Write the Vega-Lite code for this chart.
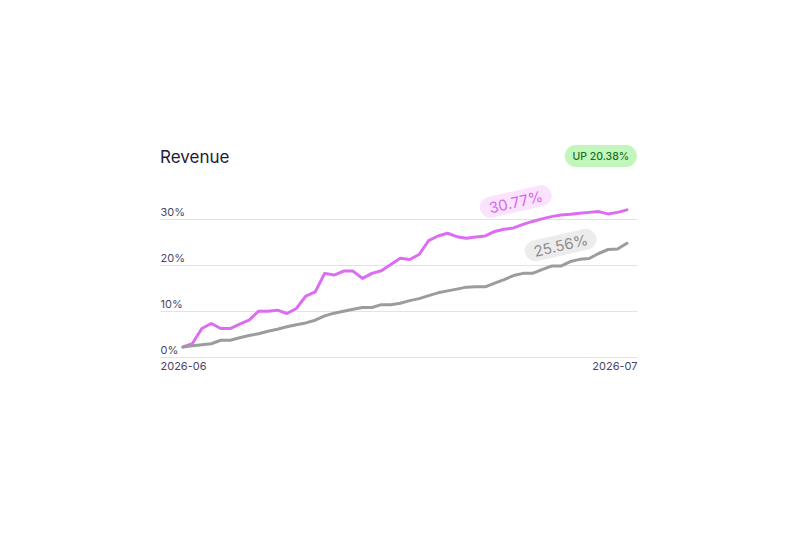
{
  "$schema": "https://vega.github.io/schema/vega-lite/v6.json",
  "width": 477,
  "height": 138,
  "autosize": {"type": "none"},
  "padding": {"left": 160, "top": 219, "right": 160, "bottom": 183},
  "background": "white",
  "config": {
    "font": "Inter",
    "view": {"stroke": null},
    "axis": {"labelFont": "Inter", "labelColor": "#4a4860", "labelFontSize": 11}
  },
  "title": {
    "text": "Revenue",
    "anchor": "start",
    "frame": "group",
    "fontSize": 17,
    "fontWeight": 400,
    "color": "#1d1b3a",
    "baseline": "alphabetic",
    "offset": -35
  },
  "datasets": {
    "series": [
      {"step": 0, "series": "Current", "value": 2.18},
      {"step": 1, "series": "Current", "value": 2.92},
      {"step": 2, "series": "Current", "value": 6.19},
      {"step": 3, "series": "Current", "value": 7.28},
      {"step": 4, "series": "Current", "value": 6.19},
      {"step": 5, "series": "Current", "value": 6.19},
      {"step": 6, "series": "Current", "value": 7.13},
      {"step": 7, "series": "Current", "value": 8.0},
      {"step": 8, "series": "Current", "value": 9.96},
      {"step": 9, "series": "Current", "value": 9.96},
      {"step": 10, "series": "Current", "value": 10.18},
      {"step": 11, "series": "Current", "value": 9.46},
      {"step": 12, "series": "Current", "value": 10.55},
      {"step": 13, "series": "Current", "value": 13.23},
      {"step": 14, "series": "Current", "value": 14.17},
      {"step": 15, "series": "Current", "value": 18.18},
      {"step": 16, "series": "Current", "value": 17.81},
      {"step": 17, "series": "Current", "value": 18.68},
      {"step": 18, "series": "Current", "value": 18.68},
      {"step": 19, "series": "Current", "value": 17.09},
      {"step": 20, "series": "Current", "value": 18.18},
      {"step": 21, "series": "Current", "value": 18.75},
      {"step": 22, "series": "Current", "value": 20.1},
      {"step": 23, "series": "Current", "value": 21.45},
      {"step": 24, "series": "Current", "value": 21.19},
      {"step": 25, "series": "Current", "value": 22.28},
      {"step": 26, "series": "Current", "value": 25.29},
      {"step": 27, "series": "Current", "value": 26.31},
      {"step": 28, "series": "Current", "value": 26.9},
      {"step": 29, "series": "Current", "value": 26.16},
      {"step": 30, "series": "Current", "value": 25.81},
      {"step": 31, "series": "Current", "value": 26.1},
      {"step": 32, "series": "Current", "value": 26.31},
      {"step": 33, "series": "Current", "value": 27.3},
      {"step": 34, "series": "Current", "value": 27.77},
      {"step": 35, "series": "Current", "value": 28.06},
      {"step": 36, "series": "Current", "value": 28.82},
      {"step": 37, "series": "Current", "value": 29.47},
      {"step": 38, "series": "Current", "value": 30.02},
      {"step": 39, "series": "Current", "value": 30.52},
      {"step": 40, "series": "Current", "value": 30.89},
      {"step": 41, "series": "Current", "value": 31.04},
      {"step": 42, "series": "Current", "value": 31.26},
      {"step": 43, "series": "Current", "value": 31.44},
      {"step": 44, "series": "Current", "value": 31.61},
      {"step": 45, "series": "Current", "value": 31.11},
      {"step": 46, "series": "Current", "value": 31.44},
      {"step": 47, "series": "Current", "value": 31.98},
      {"step": 0, "series": "Previous", "value": 2.18},
      {"step": 1, "series": "Previous", "value": 2.44},
      {"step": 2, "series": "Previous", "value": 2.66},
      {"step": 3, "series": "Previous", "value": 2.88},
      {"step": 4, "series": "Previous", "value": 3.64},
      {"step": 5, "series": "Previous", "value": 3.64},
      {"step": 6, "series": "Previous", "value": 4.19},
      {"step": 7, "series": "Previous", "value": 4.67},
      {"step": 8, "series": "Previous", "value": 5.06},
      {"step": 9, "series": "Previous", "value": 5.6},
      {"step": 10, "series": "Previous", "value": 6.04},
      {"step": 11, "series": "Previous", "value": 6.58},
      {"step": 12, "series": "Previous", "value": 7.02},
      {"step": 13, "series": "Previous", "value": 7.41},
      {"step": 14, "series": "Previous", "value": 8.0},
      {"step": 15, "series": "Previous", "value": 8.94},
      {"step": 16, "series": "Previous", "value": 9.53},
      {"step": 17, "series": "Previous", "value": 9.96},
      {"step": 18, "series": "Previous", "value": 10.4},
      {"step": 19, "series": "Previous", "value": 10.77},
      {"step": 20, "series": "Previous", "value": 10.77},
      {"step": 21, "series": "Previous", "value": 11.38},
      {"step": 22, "series": "Previous", "value": 11.34},
      {"step": 23, "series": "Previous", "value": 11.7},
      {"step": 24, "series": "Previous", "value": 12.25},
      {"step": 25, "series": "Previous", "value": 12.69},
      {"step": 26, "series": "Previous", "value": 13.34},
      {"step": 27, "series": "Previous", "value": 13.95},
      {"step": 28, "series": "Previous", "value": 14.37},
      {"step": 29, "series": "Previous", "value": 14.76},
      {"step": 30, "series": "Previous", "value": 15.19},
      {"step": 31, "series": "Previous", "value": 15.26},
      {"step": 32, "series": "Previous", "value": 15.26},
      {"step": 33, "series": "Previous", "value": 16.07},
      {"step": 34, "series": "Previous", "value": 16.83},
      {"step": 35, "series": "Previous", "value": 17.7},
      {"step": 36, "series": "Previous", "value": 18.18},
      {"step": 37, "series": "Previous", "value": 18.18},
      {"step": 38, "series": "Previous", "value": 19.01},
      {"step": 39, "series": "Previous", "value": 19.77},
      {"step": 40, "series": "Previous", "value": 19.77},
      {"step": 41, "series": "Previous", "value": 20.75},
      {"step": 42, "series": "Previous", "value": 21.23},
      {"step": 43, "series": "Previous", "value": 21.41},
      {"step": 44, "series": "Previous", "value": 22.5},
      {"step": 45, "series": "Previous", "value": 23.37},
      {"step": 46, "series": "Previous", "value": 23.48},
      {"step": 47, "series": "Previous", "value": 24.72}
    ],
    "notes": [
      {"kind": "current", "label": "30.77%", "step": 35.22, "value": 33.8},
      {"kind": "previous", "label": "25.56%", "step": 39.98, "value": 24.35},
      {"kind": "change", "label": "UP 20.38%", "step": 44.23, "value": 43.7}
    ]
  },
  "layer": [
    {
      "data": {"name": "series"},
      "mark": {"type": "line", "strokeWidth": 3, "strokeJoin": "round", "strokeCap": "round"},
      "encoding": {
        "x": {
          "field": "step", "type": "quantitative",
          "scale": {"domain": [-2.43, 48.06], "nice": false, "zero": false},
          "axis": {
            "title": null, "values": [-2.43, 48.06], "grid": false, "domain": false, "ticks": false,
            "labelFlush": true, "labelPadding": 3,
            "labelExpr": "datum.value < 0 ? '2026-06' : '2026-07'"
          }
        },
        "y": {
          "field": "value", "type": "quantitative",
          "scale": {"domain": [0, 30], "nice": false},
          "axis": {
            "title": null, "values": [0, 10, 20, 30], "domain": false, "ticks": false, "tickSize": 0,
            "grid": true, "gridColor": "#e3e3e6", "gridWidth": 1,
            "labelAlign": "left", "labelBaseline": "alphabetic", "labelPadding": 0, "labelOffset": -4,
            "labelExpr": "datum.value + '%'"
          }
        },
        "color": {
          "field": "series", "type": "nominal",
          "scale": {"domain": ["Current", "Previous"], "range": ["#dc6cf2", "#9c9c9c"]},
          "legend": null
        },
        "order": {"field": "step", "type": "quantitative"}
      }
    },
    {
      "data": {"name": "notes"},
      "transform": [{"filter": "datum.kind !== 'change'"}],
      "mark": {"type": "rule", "strokeWidth": 21, "strokeCap": "round", "clip": false,
               "xOffset": -25.4, "x2Offset": 25.4, "yOffset": 5.7, "y2Offset": -5.7},
      "encoding": {
        "x": {"field": "step", "type": "quantitative"},
        "x2": {"field": "step"},
        "y": {"field": "value", "type": "quantitative"},
        "y2": {"field": "value"},
        "color": {
          "field": "kind", "type": "nominal",
          "scale": {"domain": ["current", "previous"], "range": ["#fbe2fd", "#ececec"]},
          "legend": null
        }
      }
    },
    {
      "data": {"name": "notes"},
      "transform": [{"filter": "datum.kind === 'change'"}],
      "mark": {"type": "rule", "strokeWidth": 22, "strokeCap": "round", "clip": false,
               "color": "#c1f7ba", "xOffset": -25, "x2Offset": 25},
      "encoding": {
        "x": {"field": "step", "type": "quantitative"},
        "x2": {"field": "step"},
        "y": {"field": "value", "type": "quantitative"},
        "y2": {"field": "value"}
      }
    },
    {
      "data": {"name": "notes"},
      "transform": [{"filter": "datum.kind !== 'change'"}],
      "mark": {"type": "text", "fontSize": 15, "angle": 347, "align": "center", "baseline": "middle", "clip": false, "dy": 1},
      "encoding": {
        "x": {"field": "step", "type": "quantitative"},
        "y": {"field": "value", "type": "quantitative"},
        "text": {"field": "label"},
        "color": {
          "field": "kind", "type": "nominal",
          "scale": {"domain": ["current", "previous"], "range": ["#d468ea", "#8c8c8c"]},
          "legend": null
        }
      }
    },
    {
      "data": {"name": "notes"},
      "transform": [{"filter": "datum.kind === 'change'"}],
      "mark": {"type": "text", "fontSize": 10.5, "fontWeight": 500, "align": "center", "baseline": "middle",
               "clip": false, "color": "#1f6f1f", "dy": 1},
      "encoding": {
        "x": {"field": "step", "type": "quantitative"},
        "y": {"field": "value", "type": "quantitative"},
        "text": {"field": "label"}
      }
    }
  ],
  "resolve": {"scale": {"color": "independent"}}
}
